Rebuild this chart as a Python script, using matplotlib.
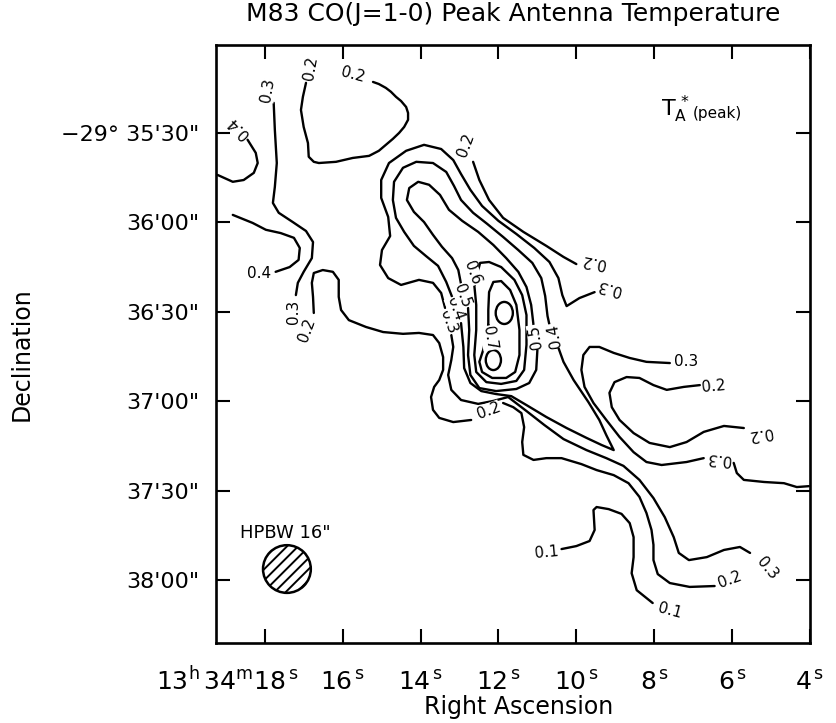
"""M83 CO(J=1-0) peak antenna temperature map, redrawn from traced contours."""

import matplotlib
matplotlib.use("Agg")
import matplotlib.pyplot as plt
from matplotlib.patches import Ellipse

# Contour traces.
# RA in seconds of time after 13h34m, Dec in arcsec south of -29d35'00".
A_RA = [18.44, 18.23, 18.18, 18.28, 18.54, 18.82, 19.21]
A_DEC = [32.3, 36.7, 40.1, 43.4, 45.8, 46.4, 44.1]

B_RA = [17.77, 17.74, 17.69, 17.74, 17.79, 17.64, 17.28, 16.94, 16.76, 16.79, 17.00, 17.15, 17.20]
B_DEC = [19.9, 29.0, 40.1, 48.1, 53.5, 56.8, 59.9, 62.9, 66.6, 72.0, 76.6, 80.3, 84.4]

C_RA = [18.82, 18.31, 17.97, 17.59, 17.25, 17.10, 17.13, 17.36, 17.72]
C_DEC = [57.5, 60.2, 62.5, 63.6, 65.2, 68.6, 72.6, 75.0, 76.6]

D_RA = [16.94, 17.02, 17.07, 17.00, 16.89, 16.87, 16.74, 16.61, 16.17, 15.74, 15.32, 15.07,
        14.89, 14.71, 14.55, 14.42, 14.32, 14.32, 14.37, 14.50, 14.63, 14.76, 14.89, 15.07, 15.22]
D_DEC = [13.2, 17.9, 22.3, 28.0, 33.4, 38.0, 39.7, 40.1, 39.7, 38.4, 37.7, 36.0,
         34.0, 32.0, 30.0, 28.0, 25.6, 23.3, 21.3, 19.3, 17.9, 16.2, 14.9, 13.6, 12.9]

E_RA = [16.74, 16.76, 16.79, 16.74, 16.51, 16.25, 16.10, 16.10, 16.04, 15.84, 15.40, 14.96,
        14.45, 14.04, 13.68, 13.52, 13.42, 13.42, 13.52, 13.65, 13.73, 13.68, 13.52, 13.16, 12.70]
E_DEC = [90.4, 85.0, 80.3, 77.0, 76.0, 76.6, 79.3, 85.0, 89.4, 92.8, 95.1, 96.8,
         97.4, 97.1, 97.8, 100.5, 105.2, 109.5, 112.9, 115.2, 118.6, 122.9, 125.6, 127.0, 126.3]

E2_RA = [11.88, 11.62, 11.41, 11.34, 11.39, 11.36, 11.10, 10.77, 10.38, 9.87, 9.48,
         9.04, 8.66, 8.38, 8.20, 8.07, 8.02, 8.02, 7.91, 7.60, 7.09, 6.45]
E2_DEC = [120.6, 122.0, 124.0, 128.7, 133.7, 138.0, 139.7, 139.1, 139.1, 141.1, 143.1,
          144.8, 147.5, 152.1, 157.5, 163.2, 168.2, 173.3, 178.0, 181.0, 182.3, 182.0]

R02_RA = [12.65, 12.49, 12.24, 11.88, 11.36, 10.77, 10.33, 10.00]
R02_DEC = [39.7, 45.8, 52.5, 58.5, 63.2, 67.9, 71.6, 74.0]

R03A_RA = [13.37, 13.47, 13.68, 14.04, 14.50, 14.83, 15.04, 14.99, 14.78, 14.83, 15.01, 15.01,
           14.81, 14.37, 13.91, 13.47, 13.16, 12.96, 12.72, 12.42, 12.00, 11.54, 11.08, 10.69,
           10.46, 10.36, 10.25, 9.92, 9.53]
R03A_DEC = [88.7, 83.7, 80.3, 79.3, 81.0, 78.7, 74.3, 69.3, 64.6, 58.2, 51.8, 45.8,
            40.1, 36.0, 34.0, 35.4, 39.1, 43.8, 49.1, 54.5, 59.5, 63.9, 68.6, 73.3,
            78.7, 84.4, 88.1, 85.4, 83.4]

R03B_RA = [13.21, 13.16, 13.21, 13.29, 13.21, 12.96, 12.52, 12.13, 11.75, 11.28, 10.82, 10.33,
           9.74, 9.23, 8.79, 8.38, 8.02, 7.73, 7.50, 7.37, 7.11, 6.65, 6.21, 5.80, 5.54]
R03B_DEC = [97.8, 101.8, 106.2, 111.2, 116.2, 119.6, 120.9, 119.9, 118.6, 123.3, 128.0, 132.7,
            136.4, 139.1, 141.7, 146.4, 152.5, 158.9, 165.6, 170.9, 173.3, 172.3, 169.9, 168.9, 170.9]

R04A_RA = [13.19, 13.34, 13.55, 13.86, 14.17, 14.42, 14.63, 14.71, 14.68, 14.45, 14.11, 13.68,
           13.34, 13.14, 12.96, 12.65, 12.29, 11.88, 11.49, 11.13, 10.90, 10.80, 10.74, 10.69]
R04A_DEC = [85.0, 80.0, 74.6, 71.3, 67.9, 63.2, 58.5, 52.5, 46.4, 41.7, 39.7, 40.1,
            43.1, 47.8, 52.5, 56.8, 60.5, 64.9, 69.3, 73.6, 78.7, 84.7, 91.4, 94.4]

R04B_RA = [10.46, 10.33, 10.07, 9.69, 9.41, 9.23, 9.04, 9.35, 9.74, 10.25, 10.77, 11.28,
           11.67, 12.06, 12.44, 12.72, 12.88, 12.90, 12.96]
R04B_DEC = [102.1, 106.8, 112.9, 120.3, 126.3, 131.4, 136.4, 134.7, 132.3, 129.0, 125.3, 121.3,
            118.3, 117.6, 116.6, 113.9, 108.9, 101.8, 93.8]

R05A_RA = [12.96, 13.03, 13.19, 13.45, 13.68, 13.91, 14.17, 14.35, 14.29, 14.06, 13.78, 13.50,
           13.27, 12.93, 12.52, 12.13, 11.80, 11.49, 11.28, 11.16, 11.10]
R05A_DEC = [80.7, 76.0, 72.0, 68.2, 64.2, 59.9, 56.5, 52.5, 48.5, 46.4, 47.4, 50.8,
            55.8, 59.5, 63.2, 67.6, 72.0, 76.6, 81.7, 87.7, 94.4]

R05B_RA = [11.00, 11.03, 11.21, 11.54, 12.06, 12.49, 12.72, 12.78, 12.75, 12.78]
R05B_DEC = [102.8, 109.5, 113.9, 115.9, 116.6, 115.6, 111.2, 104.5, 96.1, 88.7]

R06_RA = [12.62, 12.57, 12.57, 12.62, 12.57, 12.31, 11.93, 11.54, 11.34, 11.28, 11.28, 11.39,
          11.59, 11.93, 12.24, 12.47]
R06_DEC = [81.0, 87.7, 96.1, 104.5, 110.2, 113.6, 114.2, 113.2, 109.5, 101.1, 91.1, 84.4,
           79.3, 75.0, 73.3, 73.6]

R07_RA = [12.26, 12.26, 12.24, 12.13, 11.93, 11.70, 11.54, 11.46, 11.46, 11.57, 11.80, 12.16,
          12.42, 12.49, 12.39]
R07_DEC = [94.4, 89.4, 83.4, 80.0, 79.7, 82.7, 87.7, 96.1, 104.5, 110.2, 112.2, 112.2,
           110.2, 106.8, 102.8]

T03A_RA = [7.60, 8.20, 8.63, 9.04, 9.41, 9.66, 9.82, 9.87, 9.79, 9.56, 9.23, 8.89, 8.53,
           8.20, 7.81, 7.17, 6.73]
T03A_DEC = [107.2, 106.8, 105.5, 103.8, 101.8, 101.8, 104.5, 109.5, 115.2, 120.6, 126.3, 132.0,
            137.1, 140.4, 141.4, 140.4, 139.1]

T03B_RA = [5.96, 5.88, 5.70, 5.18, 4.67, 4.34, 4.03]
T03B_DEC = [140.7, 144.1, 146.4, 147.1, 147.5, 148.8, 148.5]

T02_RA = [6.83, 7.24, 7.68, 8.02, 8.38, 8.71, 9.02, 9.15, 9.09, 8.89, 8.53, 8.12, 7.60, 7.17,
          6.73, 6.21, 5.70]
T02_DEC = [114.6, 115.2, 116.2, 114.6, 112.2, 111.9, 113.6, 117.2, 122.0, 126.3, 130.7, 134.0,
           135.4, 133.7, 130.3, 128.3, 129.0]

B01_RA = [10.38, 10.00, 9.66, 9.53, 9.56, 9.48, 9.17, 8.84, 8.63, 8.53, 8.53, 8.58, 8.45, 8.04]
B01_DEC = [169.6, 168.6, 166.9, 163.2, 156.5, 155.5, 156.2, 157.8, 160.9, 165.6, 172.3, 177.7,
           183.4, 187.7]

# the two small closed peaks at the centre
PEAK_RA = [11.85, 12.13]
PEAK_DEC = [90.4, 106.2]
PEAK_W = [0.44, 0.39]
PEAK_H = [7.4, 6.7]

OPEN_TRACES = [
    (A_RA, A_DEC), (B_RA, B_DEC), (C_RA, C_DEC), (D_RA, D_DEC), (E_RA, E_DEC), (E2_RA, E2_DEC),
    (R02_RA, R02_DEC), (R03A_RA, R03A_DEC), (R03B_RA, R03B_DEC),
    (R04A_RA, R04A_DEC), (R04B_RA, R04B_DEC), (R05A_RA, R05A_DEC), (R05B_RA, R05B_DEC),
    (T03A_RA, T03A_DEC), (T03B_RA, T03B_DEC), (T02_RA, T02_DEC), (B01_RA, B01_DEC),
]
CLOSED_TRACES = [(R06_RA, R06_DEC), (R07_RA, R07_DEC)]

# contour level labels: text, RA, Dec, rotation
LEVEL_LABELS = [
    ("0.4", 18.67, 28.3, 135), ("0.3", 17.92, 15.6, 80), ("0.3", 17.25, 90.1, 90),
    ("0.4", 18.15, 77.0, 0), ("0.2", 16.82, 8.2, 80), ("0.2", 15.74, 10.5, -15),
    ("0.2", 16.92, 96.1, 70), ("0.2", 12.26, 123.3, 20), ("0.2", 6.06, 180.0, 20),
    ("0.2", 12.83, 34.0, 70), ("0.2", 9.56, 73.0, 170), ("0.3", 9.15, 81.7, 165),
    ("0.3", 13.29, 93.4, -70), ("0.3", 5.11, 176.0, -50), ("0.4", 13.11, 89.1, -70),
    ("0.4", 10.56, 98.1, 100), ("0.5", 12.93, 84.7, -70), ("0.5", 11.05, 98.5, 100),
    ("0.6", 12.67, 77.0, -70), ("0.7", 12.24, 98.8, -80),
    ("0.3", 7.17, 106.8, 0), ("0.3", 6.34, 139.1, 175), ("0.2", 6.47, 114.9, 5),
    ("0.2", 5.29, 130.7, 190), ("0.1", 10.77, 170.9, 5), ("0.1", 7.60, 190.4, -15),
]

RA_TICKS = [18, 16, 14, 12, 10, 8, 6, 4]
DEC_TICKS = [30, 60, 90, 120, 150, 180]
DEC_LABELS = ["\u221229\u00b0 35'30\"", "36'00\"", "36'30\"", "37'00\"", "37'30\"", "38'00\""]


def main() -> None:
    plt.rcParams["hatch.linewidth"] = 1.4

    fig = plt.figure(figsize=(8.37, 7.23), dpi=100)
    ax = fig.add_axes([0.2581, 0.1107, 0.7097, 0.8271])

    line_kw = dict(color="black", linewidth=1.7, solid_joinstyle="round", solid_capstyle="round")
    for ra, dec in OPEN_TRACES:
        ax.plot(ra, dec, **line_kw)
    for ra, dec in CLOSED_TRACES:
        ax.plot(list(ra) + [ra[0]], list(dec) + [dec[0]], **line_kw)
    for ra, dec, w, h in zip(PEAK_RA, PEAK_DEC, PEAK_W, PEAK_H):
        ax.add_patch(Ellipse((ra, dec), w, h, fill=False, edgecolor="black", linewidth=1.7))

    for text, ra, dec, rot in LEVEL_LABELS:
        ax.text(ra, dec, text, fontsize=11, rotation=rot, ha="center", va="center",
                rotation_mode="anchor",
                bbox=dict(facecolor="white", edgecolor="none", pad=0.2))

    # beam
    ax.add_patch(Ellipse((17.43, 176.3), 1.227, 16.0, facecolor="white", edgecolor="black",
                         linewidth=1.8, hatch="///"))
    ax.text(17.46, 164.2, 'HPBW 16"', fontsize=13, ha="center", va="center")

    ax.text(7.45, 22.0, r"$\mathrm{T}_{\mathrm{A}}^{\,*}$", fontsize=16, ha="center", va="center")
    ax.text(6.37, 23.5, "(peak)", fontsize=11, ha="center", va="center")

    ax.set_xlim(19.25, 4.0)
    ax.set_ylim(201.1, 0.5)

    ax.set_xticks(RA_TICKS)
    ax.set_xticklabels([])
    ax.set_yticks(DEC_TICKS)
    ax.set_yticklabels(DEC_LABELS, fontsize=16)
    ax.tick_params(direction="in", length=10, width=1.5, top=True, right=True, pad=12)
    for spine in ax.spines.values():
        spine.set_linewidth(1.9)

    tr = ax.get_xaxis_transform()
    ax.text(17.12, -0.079, r"$13^{\mathrm{h}}\,34^{\mathrm{m}}18^{\,\mathrm{s}}$", transform=tr,
            fontsize=18, ha="right", va="baseline")
    for ra in RA_TICKS[1:]:
        ax.text(ra, -0.079, r"$%d^{\,\mathrm{s}}$" % ra, transform=tr, fontsize=18,
                ha="center", va="baseline")

    fig.text(0.613, 0.981, "M83 CO(J=1-0) Peak Antenna Temperature", fontsize=18,
             ha="center", va="center")
    fig.text(0.026, 0.51, "Declination", fontsize=17, rotation=90, ha="center", va="center")
    fig.text(0.62, 0.022, "Right Ascension", fontsize=17, ha="center", va="center")

    fig.savefig("out.png", dpi=100)
    plt.close(fig)


if __name__ == "__main__":
    main()
